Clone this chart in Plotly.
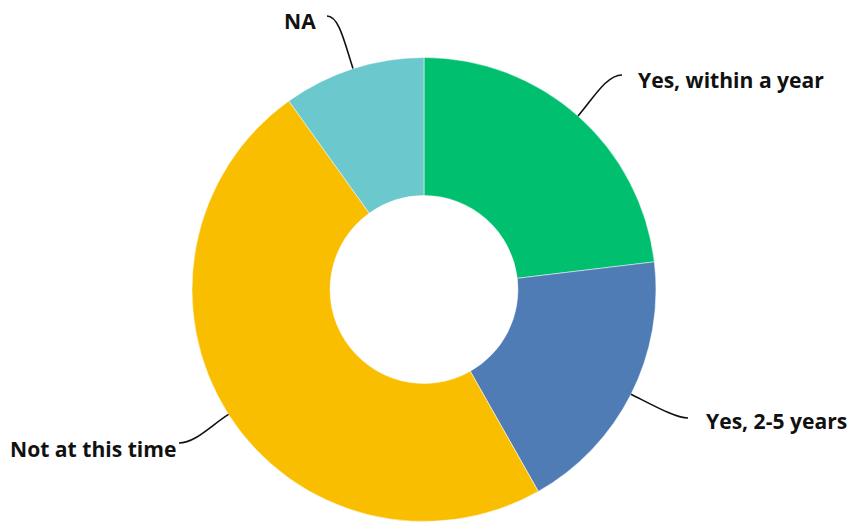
import math
import plotly.graph_objects as go

# Survey answers (percent of respondents)
labels = ["Yes, within a year", "Yes, 2-5 years", "Not at this time", "NA"]
values = [23.1, 18.7, 48.3, 9.9]
colors = ["#00BF6F", "#507CB6", "#F9BE00", "#6BC8CD"]

W, H = 851, 523
CX, CY, R = 424, 289.5, 232   # donut centre and outer radius in pixels
HOLE = 0.405

# Callout placement: end of the leader line, text anchor, and which side the text sits on
callouts = {
    "Yes, within a year": dict(end=(622, 75), text=(636, 79), side=1, l1=22, l2=16),
    "Yes, 2-5 years": dict(end=(688, 418), text=(704, 420), side=1, l1=28, l2=12),
    "Not at this time": dict(end=(179, 443), text=(178, 448), side=-1, l1=22, l2=16),
    "NA": dict(end=(327, 16), text=(318, 20), side=-1, l1=28, l2=12),
}

fig = go.Figure()
fig.add_trace(go.Pie(
    labels=labels,
    values=values,
    marker=dict(colors=colors, line=dict(color="white", width=0.5)),
    hole=HOLE,
    sort=False,
    direction="clockwise",
    rotation=0,
    textinfo="none",
    hoverinfo="label+percent",
    showlegend=False,
    domain=dict(x=[0, 2 * CX / W], y=[(H - CY - R) / H, (H - CY + R) / H]),
))
fig.add_trace(go.Scatter(x=[], y=[], showlegend=False, hoverinfo="skip"))

shapes = []
annotations = []
total = sum(values)
cum = 0.0
for lab, val in zip(labels, values):
    mid = (cum + val / 2) / total * 2 * math.pi
    cum += val
    ux, uy = math.sin(mid), -math.cos(mid)
    x0, y0 = CX + R * ux, CY + R * uy
    c = callouts[lab]
    x3, y3 = c["end"]
    x1, y1 = x0 + c["l1"] * ux, y0 + c["l1"] * uy
    x2, y2 = x3 - c["side"] * c["l2"], y3
    shapes.append(dict(
        type="path", xref="x", yref="y",
        path=f"M {x0:.1f},{y0:.1f} C {x1:.1f},{y1:.1f} {x2:.1f},{y2:.1f} {x3:.1f},{y3:.1f}",
        line=dict(color="#111111", width=1.6),
    ))
    tx, ty = c["text"]
    annotations.append(dict(
        x=tx, y=ty, xref="x", yref="y", text=f"<b>{lab}</b>", showarrow=False,
        xanchor="left" if c["side"] > 0 else "right", yanchor="middle",
        font=dict(family="Open Sans", size=21.1, color="#111111"),
    ))

fig.update_layout(
    width=W, height=H,
    margin=dict(l=0, r=0, t=0, b=0),
    paper_bgcolor="white", plot_bgcolor="white",
    xaxis=dict(range=[0, W], visible=False, fixedrange=True),
    yaxis=dict(range=[H, 0], visible=False, fixedrange=True),
    shapes=shapes,
    annotations=annotations,
)

fig.write_html("out.html")
